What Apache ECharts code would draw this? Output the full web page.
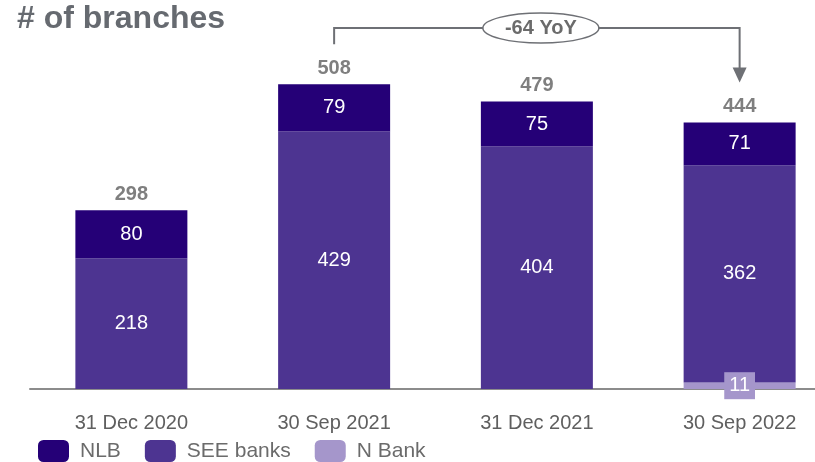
<!DOCTYPE html>
<html><head><meta charset="utf-8">
<script src="https://cdn.jsdelivr.net/npm/echarts@6/dist/echarts.min.js"></script>
<style>html,body{margin:0;padding:0;background:#fff}#c{width:815px;height:462px}</style>
</head><body><div id="c"></div>
<script>
const categories = ['31 Dec 2020', '30 Sep 2021', '31 Dec 2021', '30 Sep 2022'];
const nBank = [0, 0, 0, 11];
const seeBanks = [218, 429, 404, 362];
const nlb = [80, 79, 75, 71];
const totals = [298, 508, 479, 444];
const yoyText = '-64 YoY';

const chart = echarts.init(document.getElementById('c'));
const font = 'Liberation Sans, Arial, sans-serif';
const option = {
  animation: false,
  title: { text: '# of branches', left: 17, top: 3, padding: 0, textStyle: { fontFamily: font, fontSize: 32, fontWeight: 'bold', color: '#666a70' } },
  grid: { left: 30, width: 811, top: 29, bottom: 73, outerBoundsMode: 'none', containLabel: false },
  legend: {
    left: 38, bottom: 0, padding: 0, itemWidth: 31, itemHeight: 22, itemGap: 24,
    data: ['NLB', 'SEE banks', 'N Bank'],
    textStyle: { fontFamily: font, fontSize: 21, color: '#6b6b6b', padding: [0, 0, 0, 6] }
  },
  xAxis: {
    type: 'category', data: categories,
    axisLine: { lineStyle: { color: '#8c8c8c', width: 2 } },
    axisTick: { show: false },
    axisLabel: { fontFamily: font, fontSize: 20, color: '#5f5f5f', margin: 24 }
  },
  yAxis: { type: 'value', min: 0, max: 600, show: false, splitLine: { show: false } },
  series: [
    { name: 'N Bank', type: 'bar', stack: 's', barWidth: 112,
      data: nBank.map(v => ({ value: v, label: { show: v > 0 } })),
      itemStyle: { color: '#a596cb' },
      label: { show: true, position: 'inside', fontFamily: font, fontSize: 20, color: '#fff', backgroundColor: '#a596cb', padding: [3, 5, 4, 5] } },
    { name: 'SEE banks', type: 'bar', stack: 's', barWidth: 112, data: seeBanks,
      itemStyle: { color: '#4d3491' },
      label: { show: true, position: 'inside', fontFamily: font, fontSize: 20, color: '#fff' } },
    { name: 'NLB', type: 'bar', stack: 's', barWidth: 112, data: nlb,
      itemStyle: { color: '#250077' },
      label: { show: true, position: 'inside', fontFamily: font, fontSize: 20, color: '#fff' } },
    { name: 'Total', type: 'bar', stack: 's', barWidth: 112, data: totals.map(() => 0),
      itemStyle: { color: 'transparent' },
      label: { show: true, position: 'top', distance: 6, formatter: p => totals[p.dataIndex], fontFamily: font, fontSize: 20, fontWeight: 'bold', color: '#7f7f7f' } }
  ]
};
chart.setOption(option);

// annotation bracket between bar 2 and bar 4
const p1 = chart.convertToPixel({ xAxisIndex: 0, yAxisIndex: 0 }, [1, totals[1]]);
const p2 = chart.convertToPixel({ xAxisIndex: 0, yAxisIndex: 0 }, [3, totals[3]]);
const topY = 28;
const lineColor = '#6e7075';
const midX = (p1[0] + p2[0]) / 2 + 4;
chart.setOption({
  graphic: [
    { type: 'polyline', shape: { points: [[p1[0], p1[1] - 40], [p1[0], topY], [p2[0], topY], [p2[0], p2[1] - 52]] },
      style: { stroke: lineColor, lineWidth: 2, fill: null } },
    { type: 'polygon', shape: { points: [[p2[0] - 7, p2[1] - 55], [p2[0] + 7, p2[1] - 55], [p2[0], p2[1] - 40]] },
      style: { fill: lineColor } },
    { type: 'ellipse', shape: { cx: midX, cy: topY, rx: 58, ry: 15 },
      style: { fill: '#fff', stroke: lineColor, lineWidth: 1.5 } },
    { type: 'text', x: midX, y: topY, style: { text: yoyText, align: 'center', verticalAlign: 'middle', font: 'bold 20px ' + font, fill: '#6b6b6b' } }
  ]
});
</script></body></html>
